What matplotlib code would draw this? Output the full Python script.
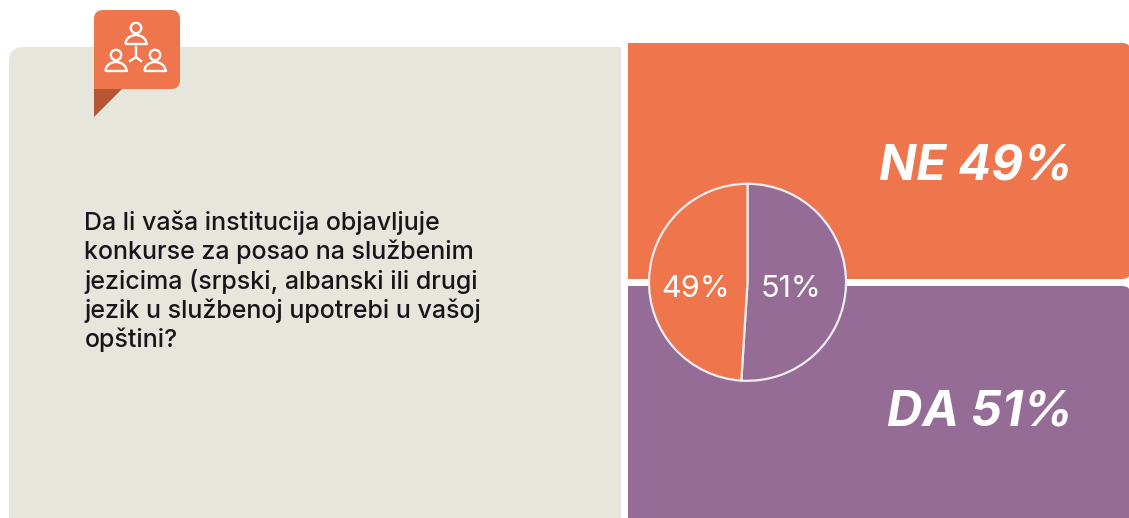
import matplotlib
matplotlib.use("Agg")
import matplotlib.pyplot as plt
from matplotlib.patches import Arc, Circle, FancyBboxPatch, Polygon, Rectangle

W, H = 1129, 518
ORANGE = "#EF754D"
PURPLE = "#946C96"
PANEL = "#E7E6DD"
DARK = "#B65531"

QUESTION = [
    "Da li vaša institucija objavljuje",
    "konkurse za posao na službenim",
    "jezicima (srpski, albanski ili drugi",
    "jezik u službenoj upotrebi u vašoj",
    "opštini?",
]
PIE_VALUES = [51, 49]
PIE_LABELS = ["51%", "49%"]
PIE_COLORS = [PURPLE, ORANGE]
NO_LABEL = "NE 49%"
YES_LABEL = "DA 51%"


def rounded(ax, x, y, w, h, r, color, z=1):
    ax.add_patch(FancyBboxPatch((x + r, y + r), w - 2 * r, h - 2 * r, boxstyle=f"round,pad={r},rounding_size={r}",
                                fc=color, ec="none", zorder=z))


def person(ax, cx, head_y, z=5):
    # head, then a half-round body with a flat base
    ax.add_patch(Circle((cx, head_y), 5.2, fc="none", ec="white", lw=1.7, zorder=z))
    base = head_y + 16
    ax.add_patch(Arc((cx, base), 21, 18, theta1=180, theta2=360, ec="white", lw=1.7, zorder=z))
    ax.plot([cx - 10.5, cx + 10.5], [base, base], color="white", lw=1.7, solid_capstyle="round", zorder=z)


fig = plt.figure(figsize=(W / 100, H / 100), dpi=100, facecolor="white")
ax = fig.add_axes([0, 0, 1, 1])
ax.set_xlim(0, W)
ax.set_ylim(H, 0)
ax.axis("off")

# panels run off the bottom and right edge; left corners of the right panels are square
rounded(ax, 9, 47, 640, 520, 15, PANEL)
ax.add_patch(Rectangle((621, 0), W - 621, H, fc="white", ec="none", zorder=2))
rounded(ax, 628, 43, 503, 236, 9, ORANGE, z=3)
ax.add_patch(Rectangle((628, 43), 30, 236, fc=ORANGE, ec="none", zorder=3))
rounded(ax, 628, 286, 503, 260, 9, PURPLE, z=3)
ax.add_patch(Rectangle((628, 286), 30, 232, fc=PURPLE, ec="none", zorder=3))

# icon tag
ax.add_patch(Polygon([(94, 88), (123, 88), (94, 117)], fc=DARK, ec="none", zorder=4))
rounded(ax, 94, 10, 86, 79, 9, ORANGE, z=4)
ax.add_patch(Rectangle((94, 70), 12, 19, fc=ORANGE, ec="none", zorder=4))
person(ax, 136, 28)
person(ax, 116, 55)
person(ax, 155, 55)
ax.plot([136, 136], [47, 57], color="white", lw=1.7, zorder=5)
ax.plot([130, 136, 141], [61, 57, 61], color="white", lw=1.7, zorder=5)

for i, line in enumerate(QUESTION):
    ax.text(84.5, 230 + i * 29.3, line, fontsize=18, family="Inter", fontweight="medium", color="#15151A",
            ha="left", va="baseline")

ax.text(1073, 180, NO_LABEL, fontsize=35.3, family="Inter", fontweight="bold", style="italic", color="white",
        ha="right", va="baseline")
ax.text(1073, 425, YES_LABEL, fontsize=35.3, family="Inter", fontweight="bold", style="italic", color="white",
        ha="right", va="baseline")

# pie gets its own axes, placed in pixel terms
cx, cy, r = 747.5, 282.3, 98.5
pie_ax = fig.add_axes([(cx - r) / W, 1 - (cy + r) / H, 2 * r / W, 2 * r / H])
pie_ax.pie(PIE_VALUES, colors=PIE_COLORS, startangle=90, counterclock=False, radius=1,
           wedgeprops={"edgecolor": "#EFEDF0", "linewidth": 1.6})
pie_ax.set_xlim(-1, 1)
pie_ax.set_ylim(-1, 1)
pie_ax.set_zorder(6)
for x, label in zip([0.44, -0.525], PIE_LABELS):
    pie_ax.text(x, -0.07, label, fontsize=22, family="Inter", color="white", ha="center", va="center")

fig.savefig("out.png", dpi=100)
